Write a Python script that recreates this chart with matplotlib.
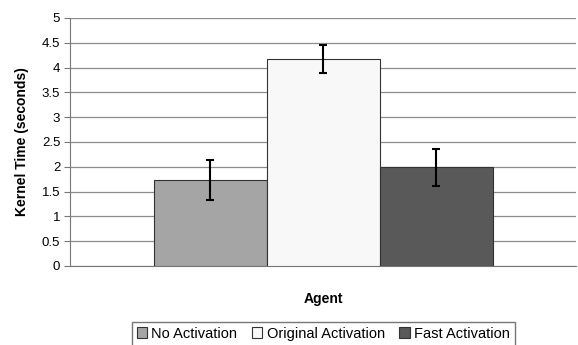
import matplotlib.pyplot as plt
from matplotlib.patches import Patch

plt.rcParams['font.family'] = ['Liberation Sans', 'DejaVu Sans']

series = ["No Activation", "Original Activation", "Fast Activation"]
times = [1.73, 4.17, 1.99]
errors = [0.40, 0.28, 0.37]
colors = ['#a5a5a5', '#f8f8f8', '#595959']
yticks = [0, 0.5, 1, 1.5, 2, 2.5, 3, 3.5, 4, 4.5, 5]

fig = plt.figure(figsize=(5.78, 3.45), dpi=100)
ax = fig.add_axes([0.121, 0.229, 0.876, 0.719])

w = 0.2233
offsets = [-w, 0, w]
for off, t, e, c in zip(offsets, times, errors, colors):
    ax.bar(off, t, width=w, color=c, edgecolor='#333333', linewidth=0.8, zorder=3)
    ax.errorbar(off, t, yerr=e, fmt='none', ecolor='black', elinewidth=1.5,
                capsize=3, capthick=1.5, zorder=4)

ax.set_xlim(-0.5, 0.5)
ax.set_ylim(0, 5)
ax.set_yticks(yticks)
ax.set_yticklabels([f"{v:g}" for v in yticks], fontsize=9.5)
ax.set_xticks([])
ax.yaxis.grid(True, color='#8c8c8c', linewidth=0.9, zorder=0)
ax.tick_params(axis='y', length=4, color='#777777', pad=3)
for s in ['top', 'right']:
    ax.spines[s].set_visible(False)
ax.spines['left'].set_color('#777777')
ax.spines['bottom'].set_color('#777777')

ax.set_ylabel("Kernel Time (seconds)", fontsize=10, fontweight='bold', labelpad=9)
ax.set_xlabel("Agent", fontsize=10, fontweight='bold', labelpad=19)

handles = [Patch(facecolor=c, edgecolor='#333333', linewidth=0.8) for c in colors]
fig.legend(handles, series, loc='upper left', bbox_to_anchor=(0.228, 0.068),
           bbox_transform=fig.transFigure, ncol=3, fontsize=10.5, frameon=True,
           fancybox=False, edgecolor='#555555', handlelength=0.7, handleheight=0.7,
           handletextpad=0.3, columnspacing=1.0, borderpad=0.35, borderaxespad=0)

fig.savefig("out.png", dpi=100)
